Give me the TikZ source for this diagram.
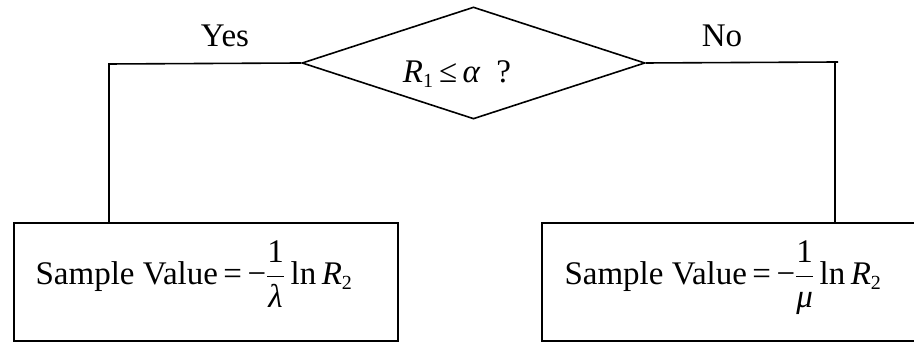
\documentclass[tikz,border=0pt]{standalone}
\usepackage{fix-cm}
\usepackage{amsmath}
\usepackage{fontspec}
\setmainfont{Liberation Serif}
\usetikzlibrary{shapes.geometric}
\newcommand\myit[1]{\text{\itshape #1}}
\begin{document}
\begin{tikzpicture}[x=1pt,y=1pt,
  line/.style={line width=1.6pt},
  boxst/.style={draw,line width=1.6pt,inner sep=0pt,anchor=south west},
  txt/.style={inner sep=0pt,anchor=base,font=\fontsize{33}{40}\selectfont}]
\useasboundingbox (0,0) rectangle (914,344);
% diamond
\node[draw,diamond,line width=1.6pt,inner sep=0pt,minimum width=343pt,minimum height=112pt,aspect=3.06] (d) at (473.5,281) {};
\node[txt] (q) at (457,261) {$\myit{R}_{\text{\fontsize{20}{24}\selectfont 1}}\,\text{≤}\,\myit{α}$\ \ ?};
% boxes
\node[boxst,minimum width=384pt,minimum height=118pt] (lb) at (13,2) {};
\node[boxst,minimum width=376pt,minimum height=118pt] (rb) at (541,2) {};
\node[txt] (lt) at (194,59) {Sample Value$\,\text{=}\,\text{−}\displaystyle\frac{\text{1}}{\myit{λ}}\,\text{ln}\,\myit{R}_{\text{\fontsize{20}{24}\selectfont 2}}$};
\node[txt] (rt) at (723,59) {Sample Value$\,\text{=}\,\text{−}\displaystyle\frac{\text{1}}{\myit{μ}}\,\text{ln}\,\myit{R}_{\text{\fontsize{20}{24}\selectfont 2}}$};
% labels
\node[txt] (yes) at (225,297) {Yes};
\node[txt] (no) at (722,297) {No};
% connectors
\coordinate (lc) at (109,280);
\draw[line] (d.west) -- (lc) -- (lc |- lb.north);
\coordinate (nc) at (838,282);
\coordinate (rc) at (835,282);
\draw[line] (d.east) -- (nc);
\draw[line] (rc) -- (rc |- rb.north);
\end{tikzpicture}
\end{document}
